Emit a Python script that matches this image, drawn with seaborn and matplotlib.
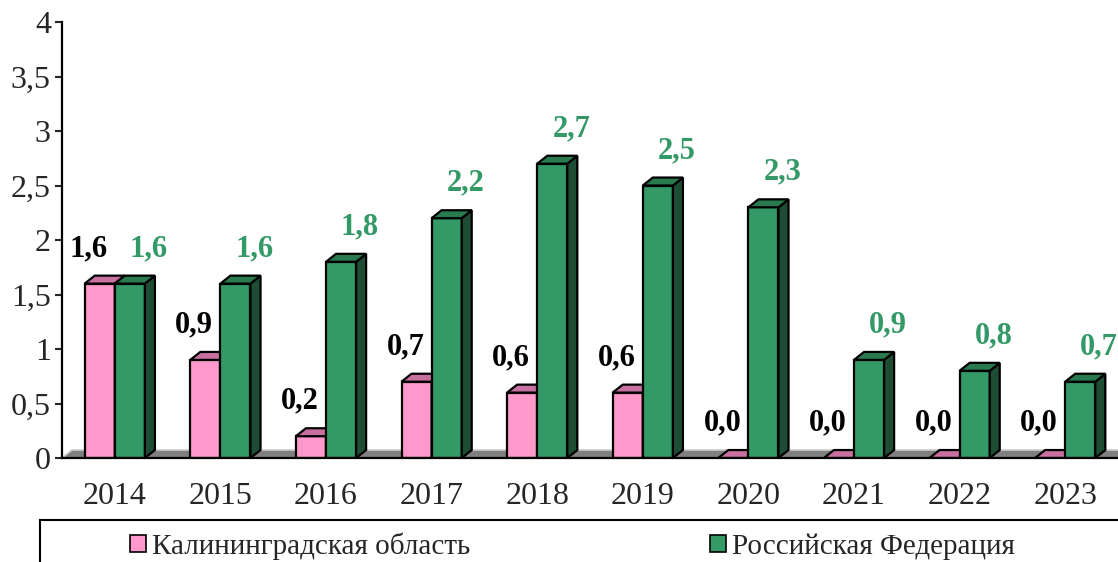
import matplotlib
matplotlib.use("Agg")
import matplotlib.pyplot as plt
from matplotlib.patches import Polygon, Patch, Rectangle
from matplotlib.ticker import FuncFormatter, MultipleLocator
import pandas as pd
import seaborn as sns

# Data
years = ["2014", "2015", "2016", "2017", "2018", "2019", "2020", "2021", "2022", "2023"]
kaliningrad = [1.6, 0.9, 0.2, 0.7, 0.6, 0.6, 0.0, 0.0, 0.0, 0.0]
russia = [1.6, 1.6, 1.8, 2.2, 2.7, 2.5, 2.3, 0.9, 0.8, 0.7]
series = ["Калининградская область", "Российская Федерация"]

# colours: front, top, side
pink = ("#FF99CC", "#C8709F", "#B05C88")
green = ("#339966", "#2A7A50", "#1E4D33")

sns.set_style("white")
plt.rcParams["font.family"] = ["Liberation Serif", "DejaVu Serif"]

df = pd.DataFrame({
    "year": years * 2,
    "value": kaliningrad + russia,
    "series": [series[0]] * len(years) + [series[1]] * len(years),
})

fig = plt.figure(figsize=(11.18, 5.62), dpi=100)
ax = fig.add_axes([62 / 1118, 104 / 562, 1056 / 1118, 436 / 562])

sns.barplot(data=df, x="year", y="value", hue="series", palette=[pink[0], green[0]],
            width=0.57, saturation=1, edgecolor="black", linewidth=1.6,
            legend=False, ax=ax)

ax.set_xlim(-0.5, len(years) - 0.5)
ax.set_ylim(0, 4)

# fake 3D depth
DX, DY = 0.095, 0.073

# floor
ax.add_patch(Polygon([(-0.5, 0), (-0.5 + DX, DY), (len(years) - 0.5 + DX, DY), (len(years) - 0.5, 0)],
                     closed=True, fc="#808080", ec="#C8C8C8", lw=1.2, zorder=1))

for i, (cont, cols) in enumerate(zip(ax.containers, [pink, green])):
    for bar in cont:
        x0, w, h = bar.get_x(), bar.get_width(), bar.get_height()
        bar.set_zorder(3 + i)
        ax.add_patch(Polygon([(x0 + w, 0), (x0 + w, h), (x0 + w + DX, h + DY), (x0 + w + DX, DY)],
                             closed=True, fc=cols[2], ec="black", lw=1.6, zorder=3 + i))
        ax.add_patch(Polygon([(x0, h), (x0 + DX, h + DY), (x0 + w + DX, h + DY), (x0 + w, h)],
                             closed=True, fc=cols[1], ec="black", lw=1.6, zorder=3 + i))

# value labels
for i, (cont, vals) in enumerate(zip(ax.containers, [kaliningrad, russia])):
    dx = -11 if i == 0 else 19
    col = "black" if i == 0 else green[0]
    for bar, v in zip(cont, vals):
        ax.annotate(f"{v:.1f}".replace(".", ","),
                    xy=(bar.get_x() + bar.get_width() / 2, bar.get_height()),
                    xytext=(dx, 35), textcoords="offset pixels",
                    ha="center", va="center", fontsize=22, fontweight="bold",
                    color=col, zorder=10)

# axes styling
ax.yaxis.set_major_locator(MultipleLocator(0.5))
ax.yaxis.set_major_formatter(FuncFormatter(lambda v, p: f"{v:g}".replace(".", ",")))
ax.tick_params(axis="y", length=5, width=1.5, direction="out", pad=3, labelsize=23, left=True)
ax.tick_params(axis="x", length=0, pad=17, labelsize=23)
ax.set_xlabel("")
ax.set_ylabel("")
for s in ["top", "right"]:
    ax.spines[s].set_visible(False)
for s in ["left", "bottom"]:
    ax.spines[s].set_color("black")
    ax.spines[s].set_linewidth(1.6)
    ax.spines[s].set_zorder(6)

# legend
handles = [Patch(fc=pink[0], ec="black", lw=1.2), Patch(fc=green[0], ec="black", lw=1.2)]
fig.legend(handles, series, loc="center", bbox_to_anchor=(0.512, 1 - 546 / 562), ncol=2,
           frameon=False, fontsize=21, handlelength=0.55, handleheight=0.55,
           handletextpad=0.2, columnspacing=8.2)
fig.patches.append(Rectangle((40 / 1118, -0.05), 1.0, (562 - 520) / 562 + 0.05,
                             transform=fig.transFigure, fill=False, ec="black", lw=1.5))

fig.savefig("out.png", dpi=100)
